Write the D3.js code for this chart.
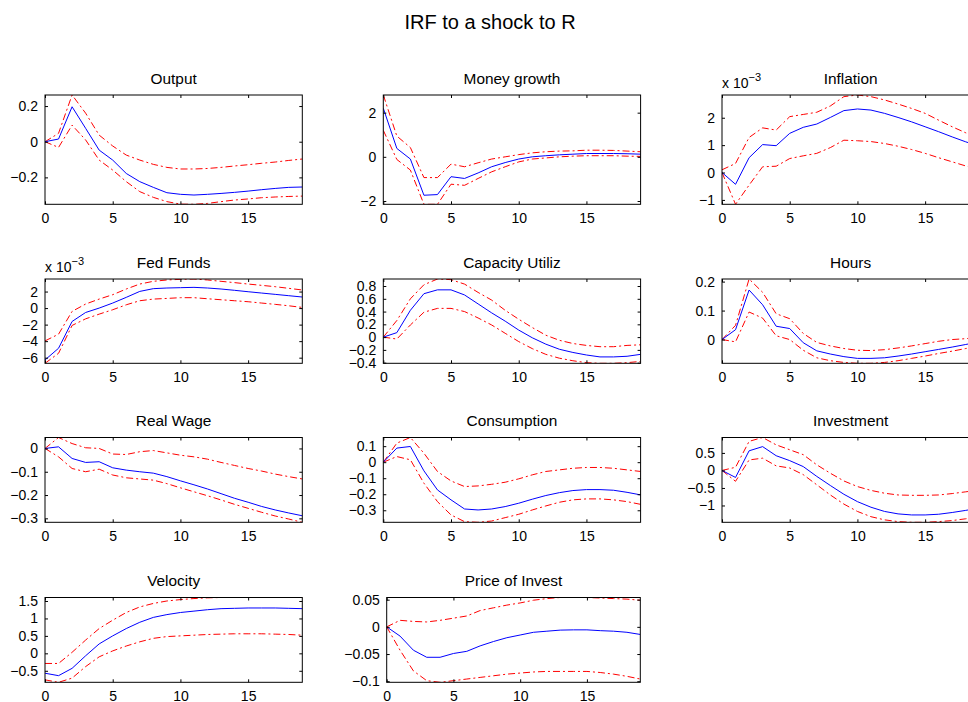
<html>
<head>
<script src="https://d3js.org/d3.v7.min.js"></script>
<style>
body { margin: 0; background: #fff; }
svg { display: block; font-family: Arial, "Liberation Sans", Helvetica, sans-serif; }
</style>
</head>
<body>
<svg></svg>
<script>

var width = 968;
var height = 702;

// horizon 0..19, same for every panel
var horizon = d3.range(0, 20);
var xTicks = [0, 5, 10, 15];

var titles = ["Output", "Money growth", "Inflation", "Fed Funds", "Capacity Utiliz", "Hours",
	"Real Wage", "Consumption", "Investment", "Velocity", "Price of Invest"];

// mid = point IRF, hi / lo = error bands
var outputMid = [0, 0.015, 0.196, 0.075, -0.047, -0.103, -0.178, -0.224, -0.256, -0.286, -0.295, -0.299, -0.295, -0.29, -0.284, -0.277, -0.269, -0.262, -0.256, -0.254];
var outputHi = [0, 0.047, 0.262, 0.16, 0.037, -0.024, -0.075, -0.103, -0.127, -0.144, -0.153, -0.153, -0.15, -0.144, -0.136, -0.129, -0.121, -0.114, -0.105, -0.097];
var outputLo = [0, -0.032, 0.093, 0.01, -0.103, -0.159, -0.224, -0.28, -0.312, -0.336, -0.35, -0.351, -0.346, -0.336, -0.327, -0.321, -0.314, -0.31, -0.307, -0.305];

var moneyMid = [2.2, 0.38, -0.1, -1.74, -1.71, -0.9, -0.98, -0.73, -0.45, -0.26, -0.1, 0, 0.05, 0.09, 0.12, 0.15, 0.15, 0.15, 0.14, 0.12];
var moneyHi = [2.8, 0.94, 0.42, -0.94, -0.94, -0.33, -0.45, -0.27, -0.1, 0, 0.1, 0.18, 0.23, 0.26, 0.27, 0.3, 0.3, 0.29, 0.26, 0.23];
var moneyLo = [1.2, -0.12, -0.6, -2.15, -2.15, -1.24, -1.29, -0.98, -0.68, -0.45, -0.23, -0.1, -0.05, 0, 0.03, 0.05, 0.05, 0.05, 0.03, 0.02];

// inflation and fed funds are in units of 10^-3
var inflationMid = [0, -0.43, 0.54, 1.02, 0.98, 1.43, 1.65, 1.77, 2.01, 2.26, 2.32, 2.28, 2.16, 2.01, 1.85, 1.67, 1.49, 1.3, 1.12, 0.96];
var inflationHi = [0.1, 0.33, 1.28, 1.63, 1.55, 2.04, 2.12, 2.2, 2.43, 2.77, 2.83, 2.77, 2.65, 2.5, 2.34, 2.16, 1.91, 1.67, 1.45, 1.24];
var inflationLo = [0, -1.16, -0.46, 0.21, 0.23, 0.51, 0.61, 0.7, 0.91, 1.18, 1.16, 1.13, 1.06, 0.96, 0.84, 0.7, 0.54, 0.39, 0.24, 0.12];

var fedMid = [-6.28, -4.86, -1.62, -0.53, 0, 0.61, 1.3, 2.02, 2.35, 2.43, 2.47, 2.51, 2.43, 2.31, 2.15, 1.98, 1.82, 1.66, 1.5, 1.34];
var fedHi = [-3.97, -3.16, -0.4, 0.49, 1.09, 1.62, 2.31, 2.91, 3.24, 3.4, 3.48, 3.52, 3.4, 3.24, 3.08, 2.91, 2.75, 2.59, 2.39, 2.19];
var fedLo = [-6.68, -5.47, -2.1, -1.3, -0.73, -0.2, 0.4, 0.89, 1.09, 1.17, 1.26, 1.26, 1.13, 1.01, 0.89, 0.77, 0.61, 0.45, 0.28, 0.08];

var capMid = [0, 0.07, 0.42, 0.68, 0.74, 0.74, 0.66, 0.52, 0.38, 0.25, 0.11, -0.01, -0.11, -0.19, -0.24, -0.28, -0.31, -0.31, -0.3, -0.27];
var capHi = [0, 0.26, 0.6, 0.82, 0.91, 0.9, 0.83, 0.7, 0.58, 0.42, 0.28, 0.15, 0.03, -0.05, -0.1, -0.13, -0.15, -0.15, -0.13, -0.12];
var capLo = [0, -0.03, 0.19, 0.39, 0.45, 0.45, 0.4, 0.3, 0.19, 0.06, -0.07, -0.18, -0.27, -0.33, -0.37, -0.4, -0.41, -0.41, -0.4, -0.38];

var hoursMid = [0, 0.034, 0.171, 0.12, 0.046, 0.038, -0.011, -0.039, -0.05, -0.059, -0.065, -0.065, -0.063, -0.057, -0.05, -0.042, -0.034, -0.026, -0.017, -0.008];
var hoursHi = [0, 0.049, 0.209, 0.163, 0.089, 0.072, 0.021, -0.01, -0.022, -0.031, -0.037, -0.038, -0.035, -0.029, -0.022, -0.014, -0.006, 0, 0.003, 0.008];
var hoursLo = [0, -0.008, 0.095, 0.074, 0.013, 0, -0.037, -0.063, -0.073, -0.079, -0.082, -0.082, -0.079, -0.073, -0.065, -0.057, -0.048, -0.04, -0.031, -0.022];

var wageMid = [0, 0.007, -0.043, -0.06, -0.057, -0.083, -0.093, -0.1, -0.106, -0.121, -0.139, -0.156, -0.174, -0.194, -0.214, -0.231, -0.249, -0.264, -0.277, -0.289];
var wageHi = [0, 0.047, 0.021, 0.003, 0, -0.024, -0.026, -0.014, -0.009, -0.019, -0.029, -0.036, -0.046, -0.06, -0.073, -0.086, -0.097, -0.11, -0.121, -0.131];
var wageLo = [0, -0.036, -0.086, -0.1, -0.089, -0.114, -0.126, -0.131, -0.136, -0.151, -0.169, -0.186, -0.203, -0.221, -0.24, -0.257, -0.274, -0.29, -0.303, -0.317];

var consMid = [0, 0.088, 0.098, -0.054, -0.173, -0.235, -0.292, -0.298, -0.292, -0.277, -0.256, -0.231, -0.208, -0.19, -0.177, -0.171, -0.171, -0.175, -0.188, -0.204];
var consHi = [0, 0.119, 0.154, 0.056, -0.058, -0.117, -0.152, -0.148, -0.138, -0.125, -0.104, -0.079, -0.058, -0.048, -0.038, -0.033, -0.033, -0.038, -0.048, -0.058];
var consLo = [0, 0.035, 0.015, -0.131, -0.246, -0.329, -0.371, -0.375, -0.367, -0.346, -0.325, -0.298, -0.273, -0.25, -0.235, -0.229, -0.229, -0.235, -0.246, -0.263];

var investMid = [0, -0.2, 0.56, 0.68, 0.42, 0.28, 0.11, -0.17, -0.43, -0.68, -0.89, -1.05, -1.17, -1.24, -1.27, -1.27, -1.25, -1.2, -1.14, -1.07];
var investHi = [0, 0.09, 0.83, 0.94, 0.73, 0.59, 0.45, 0.16, -0.08, -0.3, -0.46, -0.57, -0.65, -0.7, -0.71, -0.71, -0.7, -0.66, -0.61, -0.56];
var investLo = [0, -0.31, 0.3, 0.35, 0.13, 0.07, -0.12, -0.41, -0.7, -0.96, -1.17, -1.32, -1.41, -1.46, -1.48, -1.48, -1.46, -1.43, -1.38, -1.32];

var velMid = [-0.57, -0.64, -0.43, -0.07, 0.27, 0.5, 0.71, 0.89, 1.03, 1.11, 1.17, 1.21, 1.25, 1.28, 1.29, 1.3, 1.3, 1.3, 1.29, 1.28];
var velHi = [-0.29, -0.29, 0.03, 0.38, 0.71, 0.95, 1.17, 1.33, 1.43, 1.5, 1.54, 1.57, 1.59, 1.6, 1.6, 1.6, 1.6, 1.6, 1.6, 1.6];
var velLo = [-0.76, -0.83, -0.71, -0.38, -0.1, 0.07, 0.21, 0.33, 0.43, 0.48, 0.5, 0.52, 0.54, 0.55, 0.56, 0.56, 0.56, 0.55, 0.54, 0.52];

var pinvMid = [0, -0.017, -0.043, -0.056, -0.056, -0.049, -0.045, -0.035, -0.027, -0.02, -0.015, -0.01, -0.008, -0.006, -0.0055, -0.0055, -0.007, -0.008, -0.01, -0.014];
var pinvHi = [0, 0.012, 0.01, 0.009, 0.012, 0.016, 0.02, 0.03, 0.035, 0.04, 0.044, 0.049, 0.052, 0.054, 0.054, 0.054, 0.053, 0.052, 0.051, 0.049];
var pinvLo = [0, -0.043, -0.081, -0.099, -0.102, -0.099, -0.096, -0.093, -0.09, -0.087, -0.085, -0.083, -0.082, -0.082, -0.082, -0.082, -0.084, -0.087, -0.091, -0.096];

// y tick values per panel
var yTicks = [
	[-0.2, 0, 0.2],
	[-2, 0, 2],
	[-1, 0, 1, 2],
	[-6, -4, -2, 0, 2],
	[-0.4, -0.2, 0, 0.2, 0.4, 0.6, 0.8],
	[0, 0.1, 0.2],
	[-0.3, -0.2, -0.1, 0],
	[-0.3, -0.2, -0.1, 0, 0.1],
	[-1, -0.5, 0, 0.5],
	[-0.5, 0, 0.5, 1, 1.5],
	[-0.1, -0.05, 0, 0.05]
];
var exponents = [0, 0, -3, -3, 0, 0, 0, 0, 0, 0, 0];

var series = [
	[outputMid, outputHi, outputLo],
	[moneyMid, moneyHi, moneyLo],
	[inflationMid, inflationHi, inflationLo],
	[fedMid, fedHi, fedLo],
	[capMid, capHi, capLo],
	[hoursMid, hoursHi, hoursLo],
	[wageMid, wageHi, wageLo],
	[consMid, consHi, consLo],
	[investMid, investHi, investLo],
	[velMid, velHi, velLo],
	[pinvMid, pinvHi, pinvLo]
];

// subplot geometry (row tops/bottoms, column lefts)
var rowTop = [95, 279, 437.5, 597.5];
var rowBottom = [204.3, 363.3, 522.3, 682.3];
var colLeft = [45, 383.3, 722];
var boxWidth = 257.3;

var svg = d3.select("svg").attr("width", width).attr("height", height);

svg.append("text")
	.attr("x", 490).attr("y", 29)
	.attr("text-anchor", "middle")
	.style("font-size", "20px")
	.text("IRF to a shock to R");

var fmt = function (v) { return String(v).replace("-", "\u2212"); };

var lineGen = d3.line();

series.forEach(function (s, i) {
	var row = Math.floor(i / 3), col = i % 3;
	var left = colLeft[col];
	var right = left + boxWidth;
	if (i == 10) { left = 386.7; right = 640.3; }
	var top = rowTop[row], bottom = rowBottom[row];

	var x = d3.scaleLinear().domain([0, 19]).range([left, right]);
	var y = d3.scaleLinear().domain(d3.extent(d3.merge(s))).range([bottom, top]);

	var g = svg.append("g");

	g.append("clipPath").attr("id", "clip" + i)
		.append("rect")
		.attr("x", left).attr("y", top)
		.attr("width", right - left).attr("height", bottom - top);

	var plot = g.append("g").attr("clip-path", "url(#clip" + i + ")");

	// bands first, then the IRF
	[s[1], s[2]].forEach(function (band) {
		plot.append("path")
			.attr("d", lineGen(horizon.map(function (t) { return [x(t), y(band[t])]; })))
			.attr("fill", "none")
			.attr("stroke", "#ff0000")
			.attr("stroke-width", 1)
			.attr("stroke-dasharray", "7,3,2,3");
	});
	plot.append("path")
		.attr("d", lineGen(horizon.map(function (t) { return [x(t), y(s[0][t])]; })))
		.attr("fill", "none")
		.attr("stroke", "#0000ff")
		.attr("stroke-width", 1);

	// axes, ticks pointing inward on all four sides
	var ax = [
		g.append("g").attr("transform", "translate(0," + bottom + ")")
			.call(d3.axisBottom(x).tickValues(xTicks).tickSize(-3).tickPadding(9).tickFormat(fmt)),
		g.append("g").attr("transform", "translate(0," + top + ")")
			.call(d3.axisTop(x).tickValues(xTicks).tickSize(-3).tickFormat("")),
		g.append("g").attr("transform", "translate(" + left + ",0)")
			.call(d3.axisLeft(y).tickValues(yTicks[i]).tickSize(-3).tickPadding(7).tickFormat(fmt)),
		g.append("g").attr("transform", "translate(" + right + ",0)")
			.call(d3.axisRight(y).tickValues(yTicks[i]).tickSize(-3).tickFormat(""))
	];
	ax.forEach(function (a) {
		a.select(".domain").remove();
		a.selectAll("line").attr("stroke", "#000");
		a.selectAll("text").attr("fill", "#000").style("font-size", "14px")
			.attr("font-family", null);
	});

	g.append("rect")
		.attr("x", left).attr("y", top)
		.attr("width", right - left).attr("height", bottom - top)
		.attr("fill", "none").attr("stroke", "#000").attr("stroke-width", 1);

	g.append("text")
		.attr("x", (left + right) / 2).attr("y", top - 11.5)
		.attr("text-anchor", "middle")
		.style("font-size", "15.4px")
		.text(titles[i]);

	if (exponents[i] != 0) {
		var e = g.append("text")
			.attr("x", left).attr("y", top - 7)
			.style("font-size", "14px");
		e.append("tspan").text("x 10");
		e.append("tspan").attr("dy", -7).style("font-size", "11px").text(fmt(exponents[i]));
	}
});

</script>
</body>
</html>
